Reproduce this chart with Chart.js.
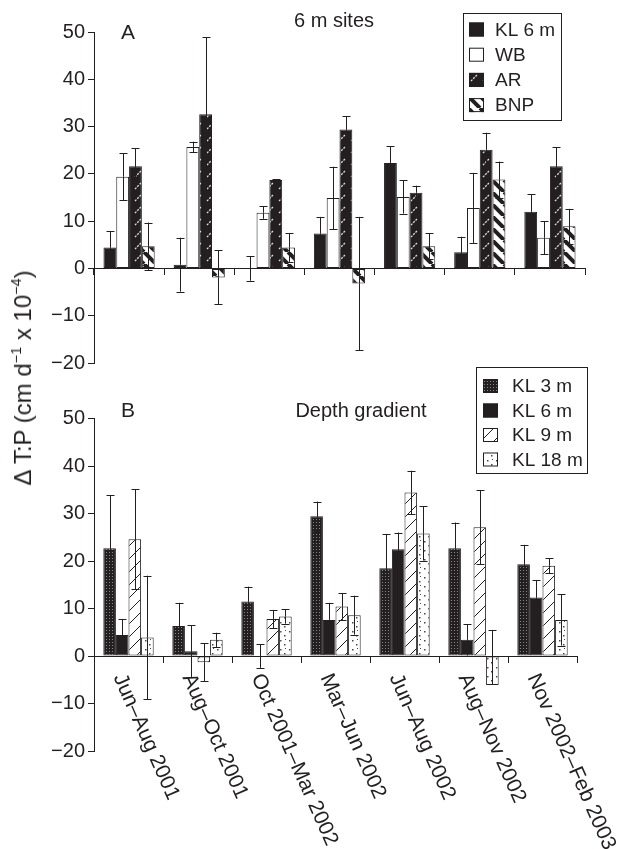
<!DOCTYPE html>
<html>
<head>
<meta charset="utf-8">
<script src="https://cdn.jsdelivr.net/npm/chart.js@4.4.0/dist/chart.umd.min.js"></script>
<style>
  body { margin: 0; background: #fff; width: 620px; height: 849px; position: relative; overflow: hidden;
         font-family: "Liberation Sans", Arial, sans-serif; color: #231f20; }
  #wrapA { position: absolute; left: 0; top: 0; width: 620px; height: 380px; }
  #wrapB { position: absolute; left: 0; top: 350px; width: 620px; height: 499px; }
  #ytitle { position: absolute; left: 23px; top: 378px; transform: translate(-50%, -50%) rotate(-90deg);
            white-space: nowrap; font-size: 24px; line-height: 1; }
  #ytitle sup { font-size: 0.6em; line-height: 0; vertical-align: 0.7em; }
</style>
</head>
<body>
<div id="wrapA"><canvas id="chartA" width="620" height="380"></canvas></div>
<div id="wrapB"><canvas id="chartB" width="620" height="499"></canvas></div>
<div id="ytitle">&Delta; T:P (cm d<sup>&minus;1</sup> x 10<sup>&minus;4</sup>)</div>
<script>
// --- DATA ---

const periods = ['Jun–Aug 2001', 'Aug–Oct 2001', 'Oct 2001–Mar 2002', 'Mar–Jun 2002',
                 'Jun–Aug 2002', 'Aug–Nov 2002', 'Nov 2002–Feb 2003'];

// Panel A: 6 m sites
const kl6A    = [4.4, 0.8, 0, 7.4, 22.3, 3.4, 12.0];
const kl6ErrA = [3.5, 5.7, 2.6, 3.5, 3.5, 3.3, 3.7];
const wbA     = [19.4, 25.7, 11.8, 14.9, 15.1, 12.8, 6.5];
const wbErrA  = [5.0, 1.1, 1.3, 6.6, 3.5, 7.4, 3.5];
const arA     = [21.6, 32.6, 18.7, 29.4, 16.0, 25.1, 21.6];
const arErrA  = [3.8, 16.3, 0.2, 2.8, 1.5, 3.6, 4.0];
const bnpA    = [4.7, -1.9, 4.4, -3.2, 4.7, 18.8, 8.9];
const bnpErrA = [5.0, 5.7, 3.0, 14.1, 2.7, 3.8, 3.7];

// Panel B: depth gradient at KL
const kl3B      = [22.7, 6.3, 11.5, 29.4, 18.5, 22.7, 19.3];
const kl3ErrB   = [11.1, 4.9, 3.1, 3.1, 7.2, 5.4, 4.1];
const kl6B      = [4.4, 1.0, 0, 7.6, 22.5, 3.4, 12.3];
const kl6ErrB   = [3.4, 5.5, 2.5, 3.6, 3.5, 3.3, 3.6];
const kl9B      = [24.6, -1.3, 7.8, 10.4, 34.4, 27.1, 19.0];
const kl9ErrB   = [10.5, 4.0, 1.9, 2.8, 4.6, 7.8, 1.6];
const kl18B     = [3.9, 3.4, 8.3, 8.6, 25.8, -6.1, 7.6];
const kl18ErrB  = [13.0, 1.5, 1.5, 4.1, 5.7, 11.6, 5.4];
const kl18ErrLoB = [13.0, 1.5, 1.5, 4.1, 5.7, 0, 5.4];   // no lower whisker drawn for Aug–Nov 2002

// --- STYLE ---

const INK = '#231f20';
const FONT = '"Liberation Sans", Arial, sans-serif';

function makePattern(size, draw) {
    const c = document.createElement('canvas');
    c.width = size; c.height = size;
    const g = c.getContext('2d');
    draw(g, size);
    return g.createPattern(c, 'repeat');
}

const solidBlack = INK;
const plainWhite = '#ffffff';

// black with white dashed "/" strokes (AR)
const arPattern = makePattern(12, (g, s) => {
    g.fillStyle = INK; g.fillRect(0, 0, s, s);
    g.strokeStyle = 'rgba(255,255,255,0.85)'; g.lineWidth = 1.3;
    g.setLineDash([2, 1.2]);
    g.beginPath(); g.moveTo(3, 9); g.lineTo(9, 3); g.stroke();
});

// white with thick black "\" stripes (BNP)
const bnpPattern = makePattern(12, (g, s) => {
    g.fillStyle = '#fff'; g.fillRect(0, 0, s, s);
    g.strokeStyle = INK; g.lineWidth = 4;
    g.beginPath();
    for (let k = -1; k <= 1; k++) { g.moveTo(k * s, 0); g.lineTo(k * s + s, s); }
    g.stroke();
});

// dark grid with pale dots (KL 3 m)
const kl3Pattern = makePattern(3, (g, s) => {
    g.fillStyle = '#231f20'; g.fillRect(0, 0, s, s);
    g.fillStyle = '#8a8687'; g.fillRect(1, 1, 1, 1);
});

// white with thin "/" hatch (KL 9 m)
const kl9Pattern = makePattern(13, (g, s) => {
    g.fillStyle = '#fff'; g.fillRect(0, 0, s, s);
    g.strokeStyle = INK; g.lineWidth = 1;
    g.beginPath();
    for (let k = -1; k <= 1; k++) { g.moveTo(k * s, s); g.lineTo(k * s + s, 0); }
    g.stroke();
});

// white with sparse dots (KL 18 m)
const kl18Pattern = makePattern(9, (g, s) => {
    g.fillStyle = '#fff'; g.fillRect(0, 0, s, s);
    g.fillStyle = '#4a4647';
    g.fillRect(1, 2, 1.5, 1.5);
    g.fillRect(5, 6, 1.5, 1.5);
    g.fillRect(6, 1, 1, 1);
});

// --- PLUGINS ---

// error bars, drawn on top of the bars
const errorBars = {
    id: 'errorBars',
    afterDatasetsDraw(chart) {
        const ctx = chart.ctx;
        const yScale = chart.scales.y;
        ctx.save();
        ctx.strokeStyle = INK;
        ctx.lineWidth = 1;
        chart.data.datasets.forEach((ds, i) => {
            const meta = chart.getDatasetMeta(i);
            meta.data.forEach((bar, j) => {
                const v = ds.data[j];
                const up = ds.errUp[j];
                const lo = ds.errLo[j];
                const x = Math.round(bar.x) + 0.5;
                const yTop = yScale.getPixelForValue(v + up);
                const yBot = yScale.getPixelForValue(v - lo);
                const yMid = yScale.getPixelForValue(v);
                ctx.beginPath();
                ctx.moveTo(x, yMid); ctx.lineTo(x, yTop);
                ctx.moveTo(x - 4, Math.round(yTop) + 0.5); ctx.lineTo(x + 4, Math.round(yTop) + 0.5);
                if (lo > 0) {
                    ctx.moveTo(x, yMid); ctx.lineTo(x, yBot);
                    ctx.moveTo(x - 4, Math.round(yBot) + 0.5); ctx.lineTo(x + 4, Math.round(yBot) + 0.5);
                }
                ctx.stroke();
            });
        });
        ctx.restore();
    }
};

// boxed legend placed inside the plot
const boxLegend = {
    id: 'boxLegend',
    afterDraw(chart, args, opts) {
        const ctx = chart.ctx;
        ctx.save();
        ctx.fillStyle = '#fff';
        ctx.fillRect(opts.x, opts.y, opts.w, opts.h);
        ctx.strokeStyle = INK; ctx.lineWidth = 1;
        ctx.strokeRect(opts.x + 0.5, opts.y + 0.5, opts.w, opts.h);
        ctx.font = '19px ' + FONT;
        ctx.textBaseline = 'middle';
        chart.data.datasets.forEach((ds, i) => {
            const cy = opts.y + opts.first + i * opts.step;
            const sx = opts.x + opts.swatch;
            ctx.fillStyle = ds.backgroundColor;
            ctx.fillRect(sx, cy - 7, 15, 14);
            ctx.strokeRect(sx + 0.5, cy - 6.5, 14, 13);
            ctx.fillStyle = INK;
            ctx.fillText(ds.label, opts.x + opts.text, cy + 1);
        });
        ctx.restore();
    }
};

// free-standing captions (panel letter, panel title)
const captions = {
    id: 'captions',
    afterDraw(chart, args, opts) {
        const ctx = chart.ctx;
        ctx.save();
        ctx.fillStyle = INK;
        ctx.textBaseline = 'alphabetic';
        opts.items.forEach(it => {
            ctx.font = it.size + 'px ' + FONT;
            ctx.textAlign = it.align || 'left';
            ctx.fillText(it.text, it.x, it.y);
        });
        ctx.restore();
    }
};

// category labels slanted downward to the right, starting at each category
const slantLabels = {
    id: 'slantLabels',
    afterDraw(chart, args, opts) {
        if (!opts.show) return;
        const ctx = chart.ctx;
        const xScale = chart.scales.x;
        const y0 = chart.scales.y.getPixelForValue(0);
        ctx.save();
        ctx.fillStyle = INK;
        ctx.font = opts.size + 'px ' + FONT;
        ctx.textAlign = 'left';
        ctx.textBaseline = 'middle';
        chart.data.labels.forEach((lab, i) => {
            const px = xScale.getPixelForValue(i);
            ctx.save();
            ctx.translate(px + opts.dx, y0 + opts.dy);
            ctx.rotate(opts.angle * Math.PI / 180);
            ctx.fillText(lab, 0, 0);
            ctx.restore();
        });
        ctx.restore();
    }
};

// --- CHART BUILDING ---

function barSet(label, values, errUp, errLo, fill) {
    return {
        label: label,
        data: values,
        errUp: errUp,
        errLo: errLo,
        backgroundColor: fill,
        borderColor: INK,
        borderWidth: 1,
        borderSkipped: false,
        categoryPercentage: 0.73,
        barPercentage: 1.0
    };
}

function panelOptions(pad, legend, items, slant) {
    return {
        responsive: false,
        animation: false,
        events: [],
        layout: { padding: pad },
        plugins: {
            legend: { display: false },
            tooltip: { enabled: false },
            boxLegend: legend,
            captions: { items: items },
            slantLabels: slant
        },
        scales: {
            x: {
                position: { y: 0 },
                z: 1,
                ticks: { display: false },
                grid: { offset: true, drawOnChartArea: false, tickLength: 6, color: INK, lineWidth: 1 },
                border: { color: INK, width: 1 }
            },
            y: {
                min: -20,
                max: 50,
                afterFit: (s) => { s.width = 94; },
                ticks: {
                    stepSize: 10,
                    color: INK,
                    padding: 3,
                    font: { family: FONT, size: 20 },
                    callback: (v) => v < 0 ? '\u2212' + Math.abs(v) : String(v)
                },
                grid: { drawOnChartArea: false, tickLength: 6, color: INK, lineWidth: 1 },
                border: { color: INK, width: 1 }
            }
        }
    };
}

window.onload = () => {
    new Chart(document.getElementById('chartA'), {
        type: 'bar',
        data: {
            labels: periods,
            datasets: [
                barSet('KL 6 m', kl6A, kl6ErrA, kl6ErrA, solidBlack),
                barSet('WB', wbA, wbErrA, wbErrA, plainWhite),
                barSet('AR', arA, arErrA, arErrA, arPattern),
                barSet('BNP', bnpA, bnpErrA, bnpErrA, bnpPattern)
            ]
        },
        options: panelOptions(
            { left: 0, right: 35, top: 32, bottom: 17 },
            { x: 463, y: 13, w: 98, h: 107, first: 16.5, step: 25.2, swatch: 6, text: 32 },
            [
                { text: 'A', x: 121, y: 38.5, size: 21 },
                { text: '6 m sites', x: 334, y: 26.5, size: 20, align: 'center' }
            ],
            { show: false }
        ),
        plugins: [errorBars, boxLegend, captions, slantLabels]
    });

    new Chart(document.getElementById('chartB'), {
        type: 'bar',
        data: {
            labels: periods,
            datasets: [
                barSet('KL 3 m', kl3B, kl3ErrB, kl3ErrB, kl3Pattern),
                barSet('KL 6 m', kl6B, kl6ErrB, kl6ErrB, solidBlack),
                barSet('KL 9 m', kl9B, kl9ErrB, kl9ErrB, kl9Pattern),
                barSet('KL 18 m', kl18B, kl18ErrB, kl18ErrLoB, kl18Pattern)
            ]
        },
        options: panelOptions(
            { left: 0, right: 43, top: 68.5, bottom: 98 },
            { x: 476, y: 17, w: 111, h: 106, first: 19, step: 24.5, swatch: 7, text: 36 },
            [
                { text: 'B', x: 121, y: 67, size: 21 },
                { text: 'Depth gradient', x: 361, y: 67, size: 20, align: 'center' }
            ],
            { show: true, size: 21, angle: 66, dx: -10, dy: 19 }
        ),
        plugins: [errorBars, boxLegend, captions, slantLabels]
    });
};
</script>
</body>
</html>
